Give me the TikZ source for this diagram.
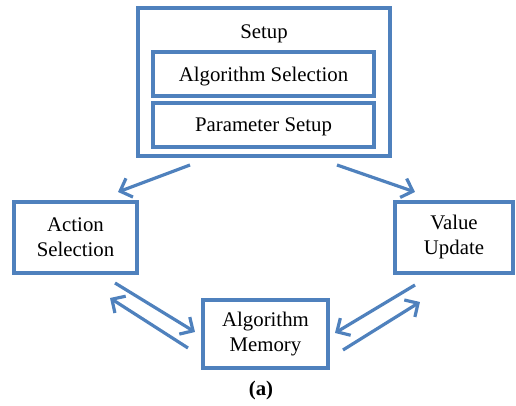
\documentclass[tikz,border=0pt]{standalone}
\usepackage{fontspec}
\setmainfont{Liberation Serif}
\usetikzlibrary{arrows.meta}
\definecolor{boxblue}{HTML}{4F81BD}

\tikzstyle{outerbox} = [draw=boxblue, line width=1.7pt, rectangle,
  minimum width=126pt, minimum height=74pt]
\tikzstyle{setupbox} = [draw=boxblue, line width=1.7pt, rectangle,
  minimum width=110.5pt, minimum height=22pt, inner sep=0pt, text depth=0pt]
\tikzstyle{stagebox} = [draw=boxblue, line width=1.7pt, rectangle,
  minimum height=35.5pt, align=center, inner sep=0pt]
\tikzstyle{flow} = [draw=boxblue, line width=1.6pt,
  -{Straight Barb[length=5pt,width=10pt]}]

\begin{document}
\begin{tikzpicture}[x=0.5pt, y=-0.5pt, font=\fontsize{10.4}{12.5}\selectfont]
        \useasboundingbox (0,0) rectangle (516,406);

        \node [outerbox] (setup)      at (264, 82)  {};
        \node            (setuptitle) at (264, 34)  {Setup};
        \node [setupbox] (algosel)    at (263.5, 74) {Algorithm Selection};
        \node [setupbox] (paramsetup) at (263.5,125) {Parameter Setup};

        \node [stagebox, minimum width=61.5pt] (action) at (75.5,237.5) {Action\\Selection};
        \node [stagebox, minimum width=59pt]   (value)  at (454,237.5)  {Value\\Update};
        \node [stagebox, minimum width=62.5pt, minimum height=34pt] (memory) at (265.5,334) {Algorithm\\Memory};

        \node [font=\fontsize{10.4}{12.5}\selectfont\bfseries] (caption) at (261,391) {(a)};

        % free ends of the connectors
        \coordinate (setupleft)   at (190,165);
        \coordinate (actiontop)   at (118,192);
        \coordinate (setupright)  at (337,165);
        \coordinate (valuetop)    at (415,192);
        \coordinate (actionout)   at (115,283);
        \coordinate (memoryinl)   at (195,332);
        \coordinate (memoryoutl)  at (188,348);
        \coordinate (actionin)    at (110,298);
        \coordinate (valueout)    at (415,285);
        \coordinate (memoryinr)   at (335,333);
        \coordinate (memoryoutr)  at (343,350);
        \coordinate (valuein)     at (420,302);

        \draw[flow] (setupleft)  -- (actiontop);
        \draw[flow] (setupright) -- (valuetop);
        \draw[flow] (actionout)  -- (memoryinl);
        \draw[flow] (memoryoutl) -- (actionin);
        \draw[flow] (valueout)   -- (memoryinr);
        \draw[flow] (memoryoutr) -- (valuein);
      \end{tikzpicture}
\end{document}
